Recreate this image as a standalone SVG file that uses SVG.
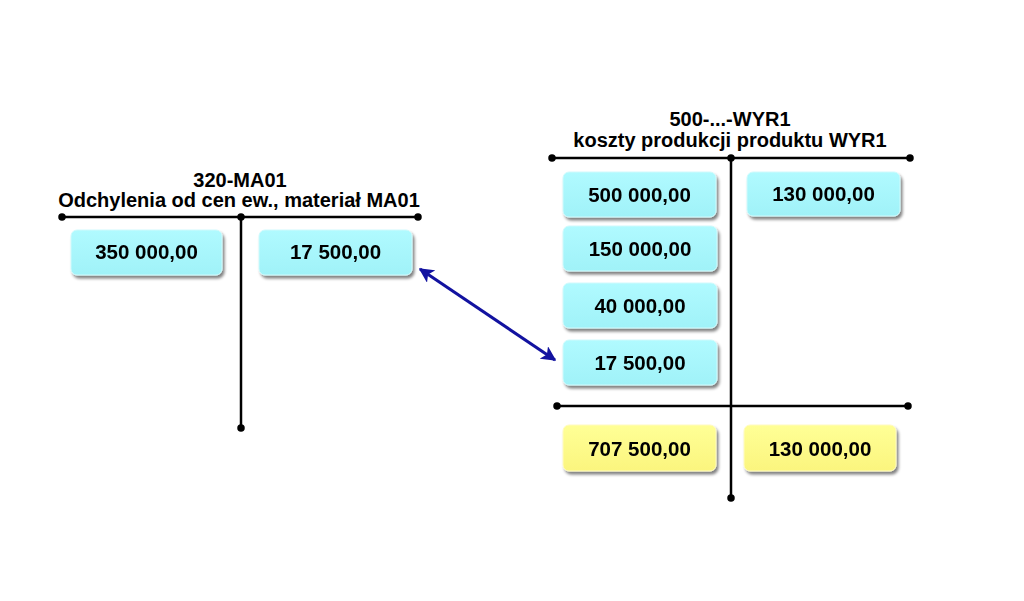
<svg xmlns="http://www.w3.org/2000/svg" width="1024" height="601" viewBox="0 0 1024 601">
<defs>
<filter id="sh" x="-10%" y="-20%" width="130%" height="150%">
<feGaussianBlur in="SourceAlpha" stdDeviation="1.5"/>
<feOffset dx="2" dy="3" result="b"/>
<feComponentTransfer><feFuncA type="linear" slope="0.5"/></feComponentTransfer>
<feMerge><feMergeNode/><feMergeNode in="SourceGraphic"/></feMerge>
</filter>
<linearGradient id="cy" x1="0" y1="0" x2="0" y2="1">
<stop offset="0" stop-color="#b0faff"/><stop offset="1" stop-color="#a0f2f8"/>
</linearGradient>
<linearGradient id="ye" x1="0" y1="0" x2="0" y2="1">
<stop offset="0" stop-color="#ffff96"/><stop offset="1" stop-color="#fbf57e"/>
</linearGradient>
<marker id="ah" viewBox="0 0 10 10" refX="9" refY="5" markerWidth="5" markerHeight="5" orient="auto-start-reverse" markerUnits="strokeWidth">
<path d="M0,0 L10,5 L0,10 L2.5,5 z" fill="#1212a0"/>
</marker>
<marker id="dot" viewBox="0 0 10 10" refX="5" refY="5" markerWidth="3" markerHeight="3" markerUnits="strokeWidth">
<circle cx="5" cy="5" r="5" fill="#000"/>
</marker>
</defs>
<style>
.ln{stroke:#000;stroke-width:2.5;fill:none;marker-start:url(#dot);marker-end:url(#dot)}
.bx{filter:url(#sh)}
.c{fill:url(#cy);stroke:#d0fafc;stroke-width:1}
.y{fill:url(#ye);stroke:#fffbc0;stroke-width:1}
.t{font-family:"Liberation Sans",Arial,sans-serif;font-weight:bold;font-size:20.5px;fill:#000;text-anchor:middle}
.h{font-family:"Liberation Sans",Arial,sans-serif;font-weight:bold;font-size:20px;fill:#000;text-anchor:middle}
</style>
<rect width="1024" height="601" fill="#fff"/>

<g id="account-320">
<text class="h" x="240" y="187">320-MA01</text>
<text class="h" x="239" y="207">Odchylenia od cen ew., materiał MA01</text>
<line class="ln" x1="62" y1="217" x2="418" y2="217"/>
<line class="ln" x1="241" y1="217" x2="241" y2="428"/>
</g>
<g id="n-350000" class="bx"><rect class="c" x="71" y="230" width="151" height="45" rx="6"/><text class="t" x="146.5" y="259">350 000,00</text></g>
<g id="n-17500-l" class="bx"><rect class="c" x="259" y="230" width="153" height="45" rx="6"/><text class="t" x="335.5" y="259">17 500,00</text></g>

<g id="account-500">
<text class="h" x="730" y="126">500-...-WYR1</text>
<text class="h" x="730" y="147">koszty produkcji produktu WYR1</text>
<line class="ln" x1="552" y1="158" x2="910" y2="158"/>
<line class="ln" x1="731" y1="158" x2="731" y2="498"/>
<line class="ln" x1="557" y1="406" x2="908" y2="406"/>
</g>
<g id="n-500000" class="bx"><rect class="c" x="563" y="172" width="153" height="45" rx="6"/><text class="t" x="639.5" y="202">500 000,00</text></g>
<g id="n-130000" class="bx"><rect class="c" x="747" y="172" width="153" height="44" rx="6"/><text class="t" x="823.5" y="201">130 000,00</text></g>
<g id="n-150000" class="bx"><rect class="c" x="563" y="226" width="154" height="45" rx="6"/><text class="t" x="640" y="256">150 000,00</text></g>
<g id="n-40000" class="bx"><rect class="c" x="563" y="283" width="154" height="45" rx="6"/><text class="t" x="640" y="313">40 000,00</text></g>
<g id="n-17500-r" class="bx"><rect class="c" x="563" y="340" width="154" height="45" rx="6"/><text class="t" x="640" y="370">17 500,00</text></g>
<g id="n-707500" class="bx"><rect class="y" x="563" y="425" width="153" height="46" rx="6"/><text class="t" x="639.5" y="456">707 500,00</text></g>
<g id="n-130000-sum" class="bx"><rect class="y" x="744" y="425" width="152" height="46" rx="6"/><text class="t" x="820" y="456">130 000,00</text></g>

<g id="connectors">
<line x1="420" y1="269" x2="555" y2="360" stroke="#1212a0" stroke-width="3" marker-start="url(#ah)" marker-end="url(#ah)"/>
</g>
</svg>
